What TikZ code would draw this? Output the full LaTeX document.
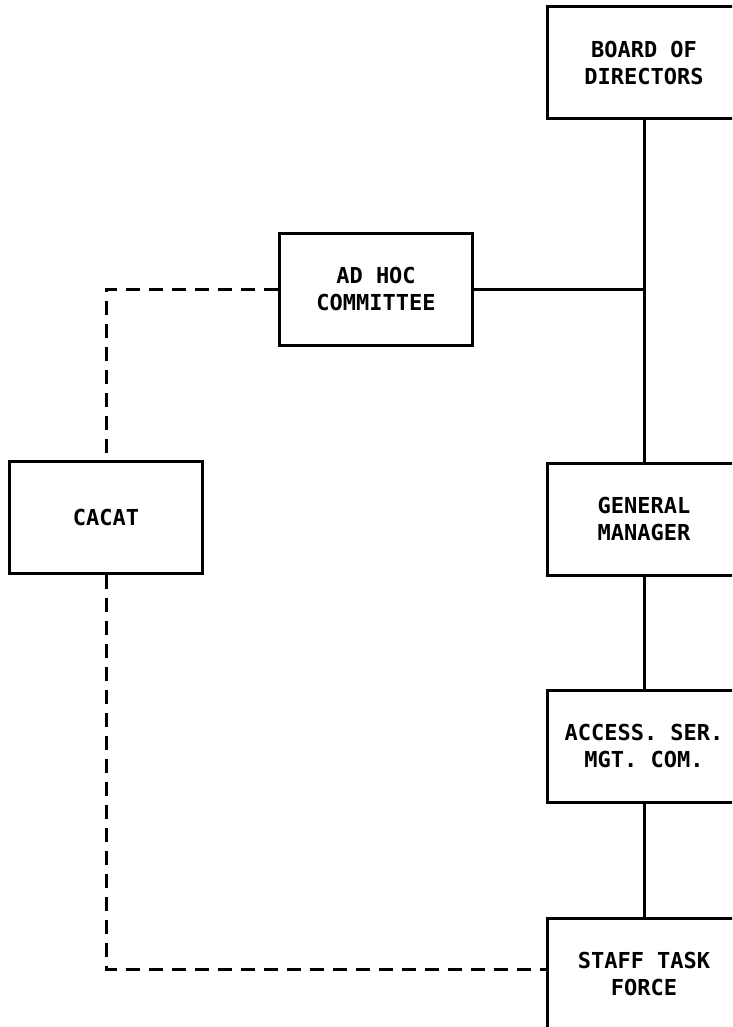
\documentclass[tikz,border=0pt]{standalone}
\usepackage{fontspec}
\newfontfamily\plotfont{DejaVu Sans Mono}
\begin{document}
\begin{tikzpicture}[x=1pt,y=-1pt,
  box/.style={draw,line width=3pt,minimum width=193pt,minimum height=112pt,inner sep=0pt,align=center,
    font=\plotfont\bfseries\fontsize{22}{27}\selectfont},
  solidline/.style={line width=3pt},
  dashline/.style={line width=3pt,dash pattern=on 14pt off 9pt}]
\useasboundingbox (0,0) rectangle (732,1027);
\clip (0,0) rectangle (732,1027);
\fill[white] (0,0) rectangle (732,1027);
\node[box] (board) at (644,63) {BOARD OF\\DIRECTORS};
\node[box] (adhoc) at (376,289) {AD HOC\\COMMITTEE};
\node[box] (cacat) at (106,517) {CACAT};
\node[box] (gm) at (644,519) {GENERAL\\MANAGER};
\node[box] (asmc) at (644,746) {ACCESS. SER.\\MGT. COM.};
\node[box] (stf) at (644,974) {STAFF TASK\\FORCE};
\coordinate (j) at (gm.north |- adhoc.east);
\coordinate (c1) at (cacat.north |- adhoc.west);
\coordinate (c2) at (cacat.south |- 0,969);
\coordinate (c3) at (stf.west |- 0,969);
\draw[solidline] (board.south) -- (gm.north);
\draw[solidline] (adhoc.east) -- (j);
\draw[solidline] (gm.south) -- (asmc.north);
\draw[solidline] (asmc.south) -- (stf.north);
\draw[dashline] (adhoc.west) -- (c1) -- (cacat.north);
\draw[dashline] (cacat.south) -- (c2) -- (c3);
\end{tikzpicture}
\end{document}
